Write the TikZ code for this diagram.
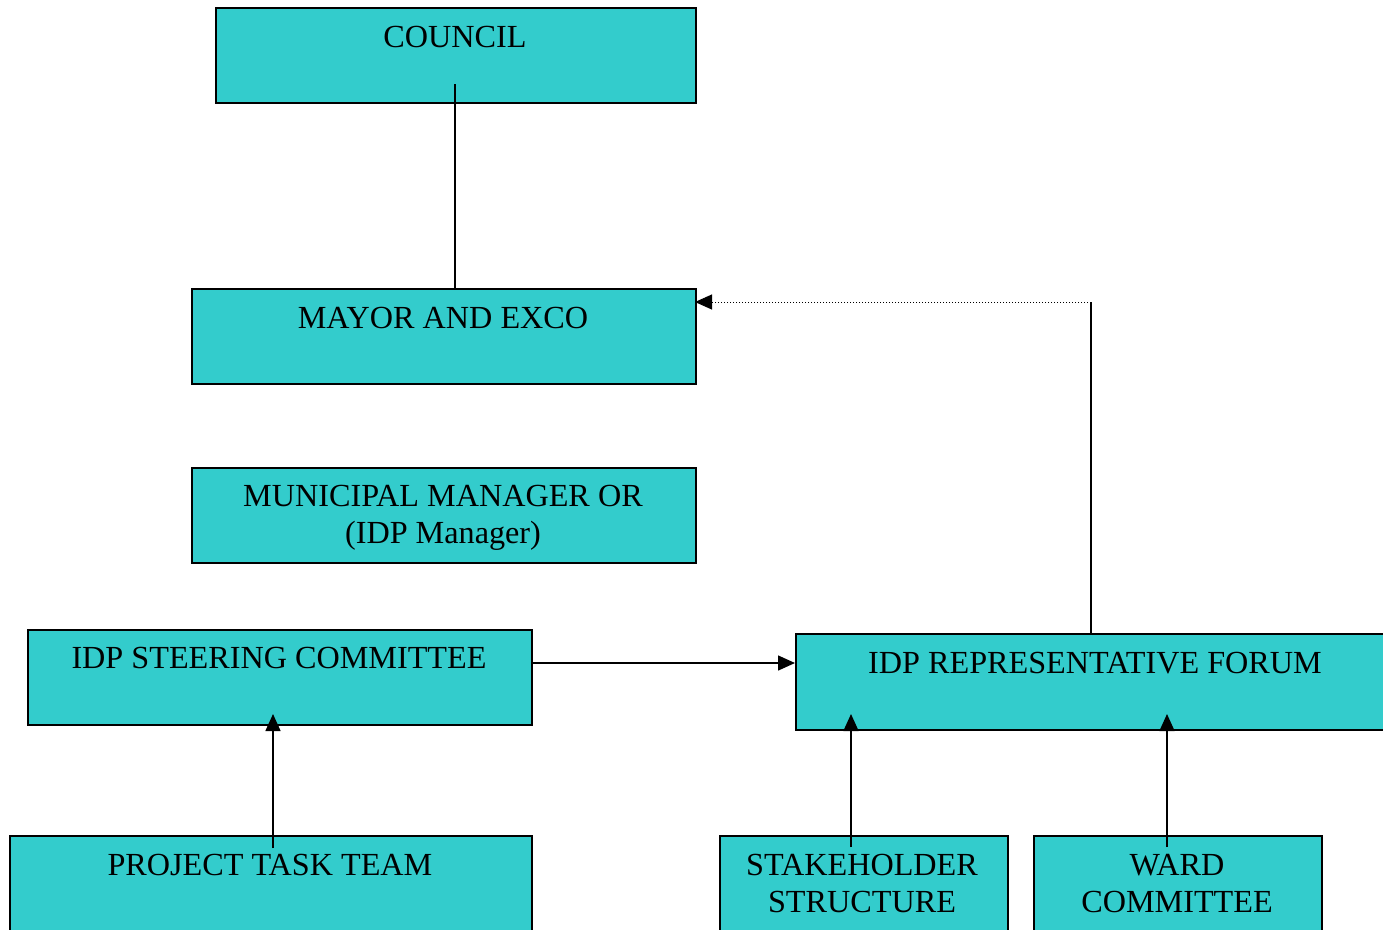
\documentclass[tikz,border=0pt]{standalone}
\usepackage{fontspec}
\setmainfont{Liberation Serif}
\usetikzlibrary{arrows.meta}
\definecolor{boxfill}{HTML}{33CCCC}
\tikzset{
  orgbox/.style={draw=black, line width=1.8pt, fill=boxfill, rectangle, inner sep=0pt, anchor=north west},
  lbl/.style={font=\fontsize{32.2}{37}\selectfont, anchor=base, inner sep=0pt, align=center, text=black},
  conn/.style={line width=1.5pt},
  arr/.style={line width=1.5pt, -{Triangle[length=17pt,width=15pt]}},
  dotconn/.style={line width=1pt, dotted, -{Triangle[length=17pt,width=15pt]}}
}
\begin{document}
\begin{tikzpicture}[x=1pt,y=-1pt]
\useasboundingbox (0,0) rectangle (1383,929);
\clip (0,0) rectangle (1383,929);
% boxes
\node[orgbox, minimum width=480pt, minimum height=95pt] (council) at (215,7) {};
\node[orgbox, minimum width=504pt, minimum height=95pt] (mayor) at (191,288) {};
\node[orgbox, minimum width=504pt, minimum height=95pt] (mm) at (191,467) {};
\node[orgbox, minimum width=504pt, minimum height=95pt] (steer) at (27,629) {};
\node[orgbox, minimum width=620pt, minimum height=96pt] (forum) at (795,633) {};
\node[orgbox, minimum width=522pt, minimum height=120pt] (ptt) at (9,835) {};
\node[orgbox, minimum width=288pt, minimum height=120pt] (stake) at (719,835) {};
\node[orgbox, minimum width=288pt, minimum height=120pt] (ward) at (1033,835) {};
% coordinates for connector ends
\coordinate (cA) at (455,84);
\coordinate (cB) at (455,288);
\coordinate (fTop) at (1091,633);
\coordinate (fCorner) at (1091,302);
\coordinate (mR) at (695,302);
\coordinate (pS) at (273,848);
\coordinate (pE) at (273,714);
\coordinate (sS) at (851,847);
\coordinate (sE) at (851,714);
\coordinate (wS) at (1167,847);
\coordinate (wE) at (1167,714);
% connectors
\draw[conn] (cA) -- (cB);
\draw[conn] (fTop) -- (fCorner);
\draw[dotconn] (fCorner) -- (mR);
\draw[arr] (steer.east |- 0,663) -- (forum.west |- 0,663);
\draw[arr] (pS) -- (pE);
\draw[arr] (sS) -- (sE);
\draw[arr] (wS) -- (wE);
% labels
\node[lbl] (tcouncil) at (455,47) {COUNCIL};
\node[lbl] (tmayor) at (443,328) {MAYOR AND EXCO};
\node[lbl] (tmm) at (443,543) {MUNICIPAL MANAGER OR\\(IDP Manager)};
\node[lbl] (tsteer) at (279,668) {IDP STEERING COMMITTEE};
\node[lbl] (tforum) at (1095,673) {IDP REPRESENTATIVE FORUM};
\node[lbl] (tptt) at (270,875) {PROJECT TASK TEAM};
\node[lbl] (tstake) at (862,912) {STAKEHOLDER\\STRUCTURE};
\node[lbl] (tward) at (1177,912) {WARD\\COMMITTEE};
\end{tikzpicture}
\end{document}
